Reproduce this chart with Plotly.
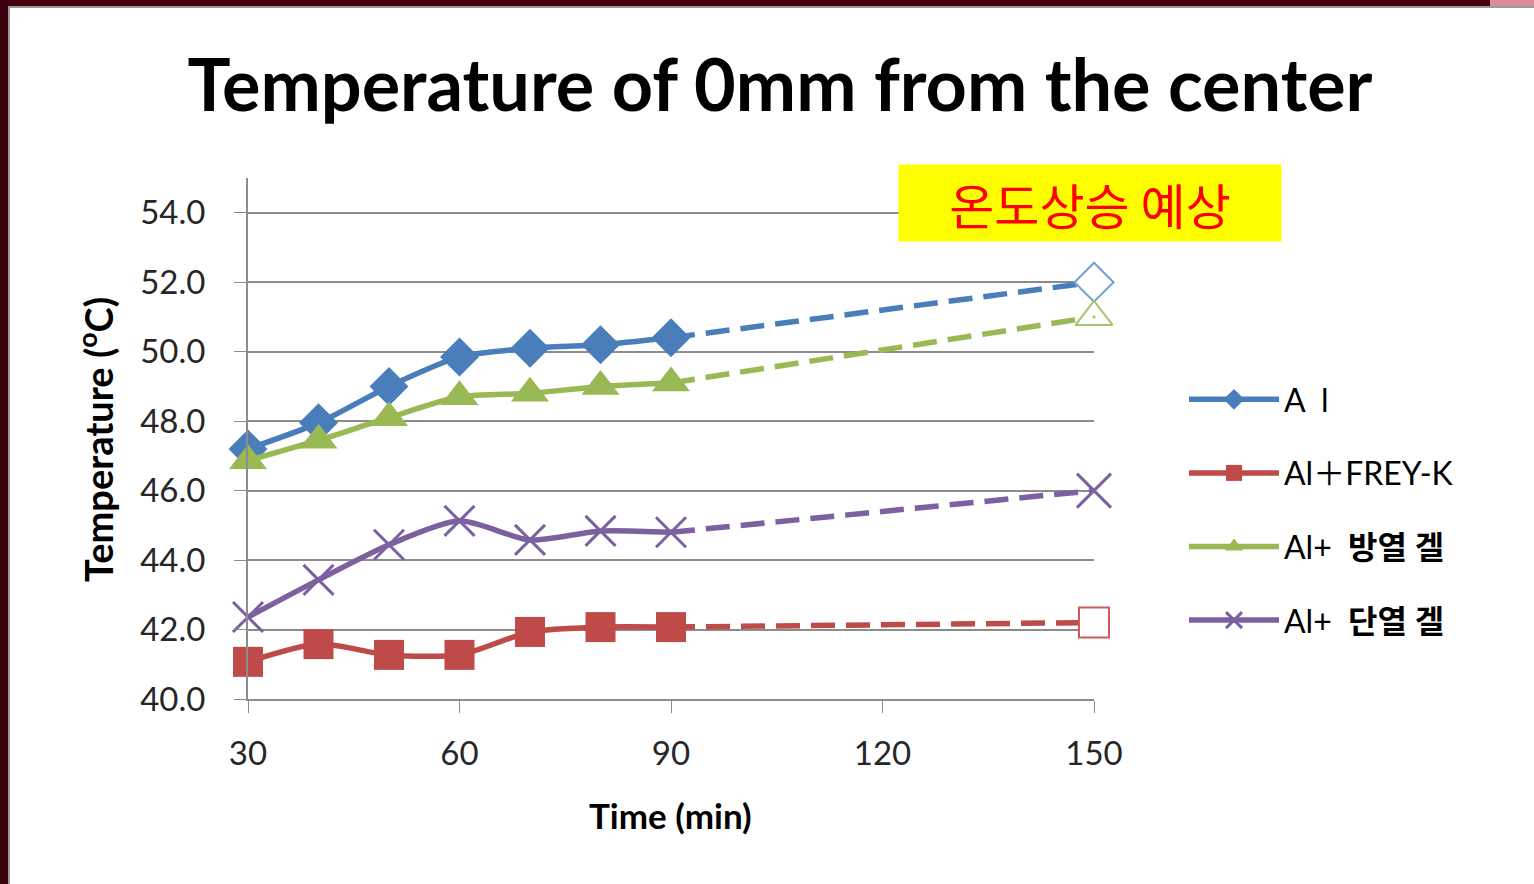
import plotly.graph_objects as go

# Measured temperatures (°C) at the centre, sampled every 10 min
time_min = [30, 40, 50, 60, 70, 80, 90]
forecast_time = [90, 150]

al = [47.2, 47.95, 49.0, 49.85, 50.1, 50.2, 50.4]
al_frey = [41.07, 41.58, 41.27, 41.27, 41.93, 42.07, 42.07]
al_heat_gel = [46.86, 47.45, 48.1, 48.7, 48.8, 49.0, 49.1]
al_insul_gel = [42.36, 43.43, 44.44, 45.13, 44.58, 44.84, 44.8]

# Expected temperature at 150 min
al_150 = 52.0
al_frey_150 = 42.2
al_heat_gel_150 = 51.0
al_insul_gel_150 = 46.0

x_ticks = [30, 60, 90, 120, 150]
y_ticks = [40, 42, 44, 46, 48, 50, 52, 54]

W, H = 1534, 884
KR = "Noto Sans CJK KR"
LATIN = "Lato, 'Noto Sans CJK KR', sans-serif"


def px(x):
    return x / W


def py(y):
    return 1 - y / H


series = [
    dict(name="A  l", y=al, end=al_150, color="#4A7EBB",
         sym="diamond", size=30, lw_m=0,
         end_sym="diamond-open", end_size=30, end_color="#6F9FD8"),
    dict(name="Al＋FREY-K", y=al_frey, end=al_frey_150, color="#BE4B48",
         sym="square", size=30, lw_m=0,
         end_sym="square-open", end_size=30, end_color="#D05A57"),
    dict(name="Al+  <b>방열 겔</b>", y=al_heat_gel, end=al_heat_gel_150, color="#98B954",
         sym="triangle-up", size=33, lw_m=0,
         end_sym="triangle-up-open-dot", end_size=32, end_color="#A5C56A"),
    dict(name="Al+  <b>단열 겔</b>", y=al_insul_gel, end=al_insul_gel_150, color="#7D60A0",
         sym="x-thin", size=30, lw_m=3,
         end_sym="x-thin", end_size=34, end_color="#7D60A0"),
]

fig = go.Figure()

for s in series:
    # dashed projection 90 -> 150 min
    fig.add_trace(go.Scatter(
        x=forecast_time, y=[s["y"][-1], s["end"]],
        mode="lines", line=dict(color=s["color"], width=5.5, dash="24px,11px"),
        showlegend=False, hoverinfo="skip", cliponaxis=False,
    ))
    # hollow end marker: white body under the outlined symbol
    if s["end_sym"] != "x-thin":
        fig.add_trace(go.Scatter(
            x=[forecast_time[-1]], y=[s["end"]], mode="markers",
            marker=dict(symbol=s["end_sym"].replace("-open", "").replace("-dot", ""),
                        size=s["end_size"], color="white", line=dict(width=0)),
            showlegend=False, hoverinfo="skip", cliponaxis=False,
        ))
    fig.add_trace(go.Scatter(
        x=[forecast_time[-1]], y=[s["end"]],
        mode="markers",
        marker=dict(symbol=s["end_sym"], size=s["end_size"], color=s["end_color"],
                    line=dict(color=s["end_color"], width=2 if s["end_sym"] != "x-thin" else 3)),
        showlegend=False, cliponaxis=False,
    ))

for i, s in enumerate(series):
    fig.add_trace(go.Scatter(
        x=time_min, y=s["y"], name=s["name"], legendgroup=f"g{i}",
        mode="lines+markers",
        line=dict(color=s["color"], width=5.5, shape="spline", smoothing=0.7),
        marker=dict(symbol=s["sym"], size=s["size"], color=s["color"],
                    line=dict(color=s["color"], width=s["lw_m"])),
        cliponaxis=False,
    ))

axis_grey = "#8C8C8C"
fig.update_layout(
    width=W, height=H,
    margin=dict(l=0, r=0, t=0, b=0),
    paper_bgcolor="white", plot_bgcolor="white",
    font=dict(family=LATIN, color="#262626"),
    title=dict(text="<b>Temperature of 0mm from the center</b>",
               x=px(780), y=py(86), xanchor="center", yanchor="middle",
               font=dict(size=72, color="#000000", family=LATIN)),
    xaxis=dict(domain=[px(248), px(1094)], range=[30, 150], automargin=False,
               tickvals=x_ticks, ticks="outside", ticklen=12, tickcolor=axis_grey,
               showline=True, linecolor=axis_grey, linewidth=2,
               showgrid=False, zeroline=False,
               tickfont=dict(size=33, color="#262626"), ticklabelstandoff=12),
    yaxis=dict(domain=[py(699), py(178)], range=[40, 55], automargin=False,
               tickvals=y_ticks, tickformat=".1f", ticks="outside", ticklen=12,
               tickcolor=axis_grey,
               showline=True, linecolor=axis_grey, linewidth=2,
               showgrid=True, gridcolor=axis_grey, gridwidth=1.5, zeroline=False,
               tickfont=dict(size=33, color="#262626"), ticklabelstandoff=22),
    legend=dict(x=px(1184), y=py(372), xanchor="left", yanchor="top",
                font=dict(size=32, color="#000000", family=LATIN),
                tracegroupgap=29, itemwidth=90, bgcolor="rgba(0,0,0,0)"),
    showlegend=True,
)

fig.add_annotation(text="<b>Time (min)</b>", x=px(670), y=py(815), xref="paper", yref="paper",
                   xanchor="center", yanchor="middle",
                   showarrow=False, font=dict(size=35, color="#000000", family=LATIN))
fig.add_annotation(text="<b>Temperature (<sup>o</sup>C)</b>", x=px(96), y=py(440),
                   xref="paper", yref="paper", xanchor="center", yanchor="middle",
                   textangle=-90, showarrow=False,
                   font=dict(size=38, color="#000000", family=LATIN))

# Highlighted note on the expected rise
fig.add_annotation(text="온도상승 예상", x=px(1090), y=py(203), xref="paper", yref="paper",
                   xanchor="center", yanchor="middle", showarrow=False,
                   width=378, height=72, borderpad=2, bgcolor="#FFFF00",
                   font=dict(size=49, color="#FF0000", family=KR))

# Slide frame: dark border on the top and left edges
fig.add_shape(type="rect", xref="paper", yref="paper", x0=0, x1=1, y0=py(6), y1=1,
              fillcolor="#4A0012", line=dict(width=0), layer="above")
fig.add_shape(type="rect", xref="paper", yref="paper", x0=px(1490), x1=1, y0=py(6), y1=1,
              fillcolor="#D98C9E", line=dict(width=0), layer="above")
fig.add_shape(type="rect", xref="paper", yref="paper", x0=0, x1=px(8), y0=0, y1=1,
              fillcolor="#3A000E", line=dict(width=0), layer="above")
fig.add_shape(type="line", xref="paper", yref="paper", x0=px(8), x1=1, y0=py(7), y1=py(7),
              line=dict(color="#9A9A9A", width=2), layer="above")
fig.add_shape(type="line", xref="paper", yref="paper", x0=px(9), x1=px(9), y0=0, y1=py(6),
              line=dict(color="#9A9A9A", width=2), layer="above")

fig.write_html("out.html")
